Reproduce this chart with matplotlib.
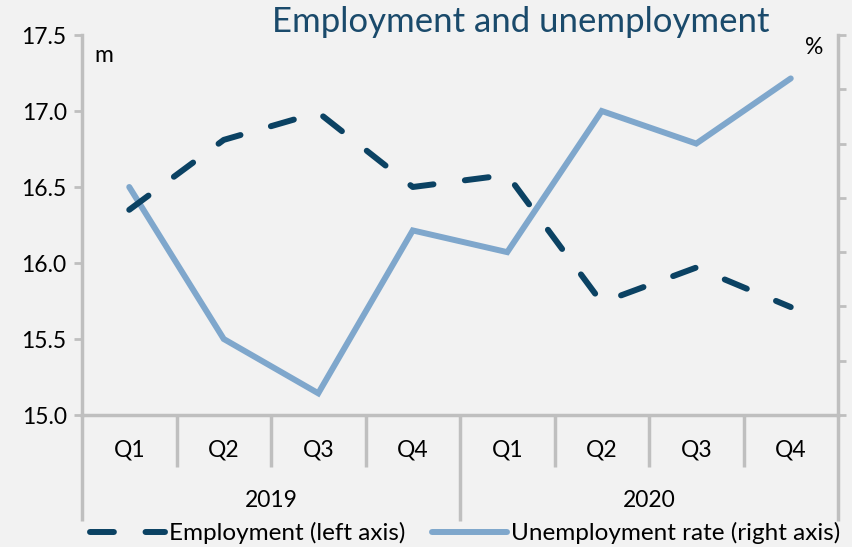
import numpy as np
import matplotlib.pyplot as plt
from matplotlib.transforms import blended_transform_factory

# Quarterly data, 2019-2020
quarters = ["Q1", "Q2", "Q3", "Q4", "Q1", "Q2", "Q3", "Q4"]
years = ["2019", "2020"]
employment = [16.35, 16.81, 16.99, 16.50, 16.58, 15.74, 15.97, 15.71]   # millions, left axis
unemployment = [5.10, 3.70, 3.20, 4.70, 4.50, 5.80, 5.50, 6.10]        # %, right axis

bg = "#f2f2f2"
grid_col = "#bfbfbf"
dark = "#0b4263"
light = "#7fa7cc"
fs = 16.5
plt.rcParams["font.family"] = ["Lato", "DejaVu Sans"]

fig = plt.figure(figsize=(8.52, 5.47), dpi=100, facecolor=bg)
ax = fig.add_axes([82 / 852, 1 - 415 / 547, (838 - 82) / 852, 380 / 547])
ax2 = ax.twinx()

x = np.arange(len(quarters))

l1, = ax.plot(x, employment, color=dark, lw=4.3, linestyle=(0, (4, 5.3)),
              dash_capstyle="round", solid_capstyle="round", zorder=3,
              label="Employment (left axis)")
l2, = ax2.plot(x, unemployment, color=light, lw=4.3, solid_capstyle="round",
               solid_joinstyle="miter", zorder=2,
               label="Unemployment rate (right axis)")
# dashed series sits on top of the solid one
ax.set_zorder(ax2.get_zorder() + 1)
ax.patch.set_visible(False)
ax2.patch.set_facecolor(bg)

ax.set_xlim(-0.5, len(quarters) - 0.5)
ax.set_ylim(15.0, 17.5)
left_ticks = np.arange(15.0, 17.51, 0.5)
ax.set_yticks(left_ticks)
ax.set_yticklabels([f"{v:.1f}" for v in left_ticks], fontsize=fs)
ax2.set_ylim(3.0, 6.5)
ax2.set_yticks(np.arange(3.0, 6.51, 0.5))
ax2.set_yticklabels([])

for a in (ax, ax2):
    a.spines["top"].set_visible(False)
    for s in ("left", "right", "bottom"):
        a.spines[s].set_color(grid_col)
        a.spines[s].set_linewidth(2.5)
ax.spines["right"].set_visible(False)
ax2.spines["left"].set_visible(False)
ax2.spines["bottom"].set_visible(False)
ax.tick_params(axis="y", direction="out", length=6, width=2, color=grid_col,
               pad=5, labelcolor="black")
ax2.tick_params(axis="y", direction="out", length=6, width=2, color=grid_col)
ax.set_xticks([])

# category axis below the plot: quarter labels, year labels and dividers
trans = blended_transform_factory(ax.transData, ax.transAxes)
for i, q in enumerate(quarters):
    ax.text(i, -0.093, q, transform=trans, ha="center", va="center", fontsize=fs)
for j, yr in enumerate(years):
    ax.text(j * 4 + 1.5, -0.224, yr, transform=trans, ha="center", va="center", fontsize=fs)
for k in range(len(quarters) + 1):
    xb = k - 0.5
    bottom = -0.278 if k % 4 == 0 else -0.137
    ax.plot([xb, xb], [0, bottom], transform=trans, color=grid_col, lw=2.5,
            clip_on=False, solid_capstyle="butt")

fig.text(104 / 852, 1 - 55 / 547, "m", ha="center", va="center", fontsize=fs)
fig.text(814 / 852, 1 - 47 / 547, "%", ha="center", va="center", fontsize=fs)
fig.text(521 / 852, 1 - 22 / 547, "Employment and unemployment", ha="center",
         va="center", fontsize=25, color="#1a4a6b")

fig.legend(handles=[l1, l2], loc="center", bbox_to_anchor=(465 / 852, 1 - 533 / 547),
           ncol=2, frameon=False, fontsize=17.5, handlelength=3.1, handletextpad=0.15,
           columnspacing=1.1, borderaxespad=0)

fig.savefig("out.png", dpi=100, facecolor=bg)
